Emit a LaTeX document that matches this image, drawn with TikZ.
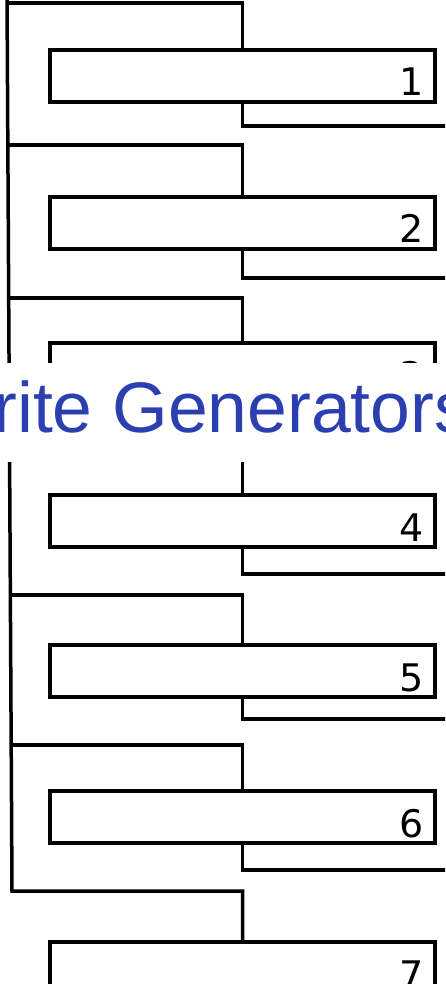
\documentclass[tikz,border=0pt]{standalone}
\usepackage{fontspec}
\setmainfont{Liberation Sans}
\newfontfamily\digitfont{DejaVu Sans}
\usetikzlibrary{calc}
\definecolor{titleblue}{RGB}{44,63,176}
\begin{document}
\begin{tikzpicture}[x=1pt,y=-1pt,
  genbox/.style={draw, line width=4pt, minimum width=385pt, minimum height=52pt,
    anchor=north west, inner sep=0pt, outer sep=0pt},
  wire/.style={draw, line width=3.5pt, line join=miter},
  numlabel/.style={font=\digitfont\fontsize{38}{38}\selectfont, anchor=base east, inner sep=0pt},
  titletext/.style={text=titleblue, font=\fontsize{71.5}{72}\selectfont, anchor=base west, inner sep=0pt}]
\useasboundingbox (0,0) rectangle (445,984);
\clip (0,0) rectangle (445,984);
% boxes
\node[genbox] (box1) at (50,50) {};
\node[genbox] (box2) at (50,197) {};
\node[genbox] (box3) at (50,343) {};
\node[genbox] (box4) at (50,495) {};
\node[genbox] (box5) at (50,645) {};
\node[genbox] (box6) at (50,791) {};
\node[genbox] (box7) at (50,942) {};
% numbers
\node[numlabel] (n1) at ($(box1.north east)+(-11,46)$) {1};
\node[numlabel] (n2) at ($(box2.north east)+(-11,46)$) {2};
\node[numlabel] (n3) at ($(box3.north east)+(-11,46)$) {3};
\node[numlabel] (n4) at ($(box4.north east)+(-11,46)$) {4};
\node[numlabel] (n5) at ($(box5.north east)+(-11,46)$) {5};
\node[numlabel] (n6) at ($(box6.north east)+(-11,46)$) {6};
\node[numlabel] (n7) at ($(box7.north east)+(-11,46)$) {7};
% bus coordinates
\coordinate (bustop) at (7,-5);
\coordinate (bus1) at (7,3);
\coordinate (bus2) at (7.8,145);
\coordinate (bus3) at (8.7,298);
\coordinate (bus4) at (9.5,445);
\coordinate (bus5) at (10.3,595);
\coordinate (bus6) at (11.2,745);
\coordinate (busend) at (12,891);
% output ends
\coordinate (out1) at (450,126);
\coordinate (out2) at (450,278);
\coordinate (out3) at (450,424);
\coordinate (out4) at (450,574);
\coordinate (out5) at (450,719);
\coordinate (out6) at (450,870);
% bus
\draw[wire] (bustop) -- (busend) -| (box7.north);
% branches
\draw[wire] (bus1) -| (box1.north);
\draw[wire] (bus2) -| (box2.north);
\draw[wire] (bus3) -| (box3.north);
\draw[wire] (bus4) -| (box4.north);
\draw[wire] (bus5) -| (box5.north);
\draw[wire] (bus6) -| (box6.north);
% outputs
\draw[wire] (box1.south) |- (out1);
\draw[wire] (box2.south) |- (out2);
\draw[wire] (box3.south) |- (out3);
\draw[wire] (box4.south) |- (out4);
\draw[wire] (box5.south) |- (out5);
\draw[wire] (box6.south) |- (out6);
% title band
\fill[white] (-5,363) rectangle (450,462);
\node[titletext] (title) at (-73,432) {Write Generators};
\end{tikzpicture}
\end{document}
